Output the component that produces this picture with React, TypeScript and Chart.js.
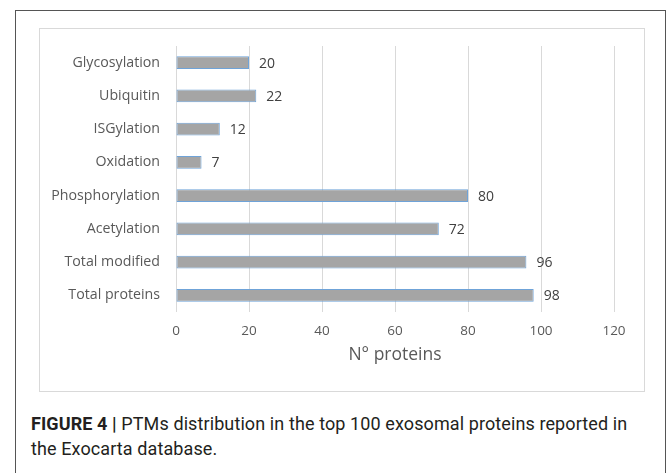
import React, { useEffect, useRef } from "react";
import { Chart, registerables } from "chart.js";

Chart.register(...registerables);

const categories = [
  "Glycosylation",
  "Ubiquitin",
  "ISGylation",
  "Oxidation",
  "Phosphorylation",
  "Acetylation",
  "Total modified",
  "Total proteins",
];
const values = [20, 22, 12, 7, 80, 72, 96, 98];
const xTicks = [0, 20, 40, 60, 80, 100, 120];
const axisTitle = "N° proteins";

const CHART_FONT = "'Open Sans', 'Noto Sans', sans-serif";

const valueLabels = {
  id: "valueLabels",
  afterDatasetsDraw(chart: any) {
    const ctx = chart.ctx;
    const meta = chart.getDatasetMeta(0);
    ctx.save();
    ctx.font = `14px ${CHART_FONT}`;
    ctx.fillStyle = "#404040";
    ctx.textAlign = "left";
    ctx.textBaseline = "middle";
    meta.data.forEach((el: any, i: number) => {
      ctx.fillText(String(values[i]), el.x + 10, el.y + 1);
    });
    ctx.restore();
  },
};

export default function App() {
  const ref = useRef<HTMLCanvasElement | null>(null);

  useEffect(() => {
    if (!ref.current) return;
    const chart = new Chart(ref.current, {
      type: "bar",
      data: {
        labels: categories,
        datasets: [
          {
            data: values,
            backgroundColor: "#a5a5a5",
            borderColor: "#6fa3d8",
            borderWidth: 1,
            borderSkipped: false,
            barPercentage: 0.38,
            categoryPercentage: 1,
          },
        ],
      },
      options: {
        indexAxis: "y",
        animation: false,
        responsive: false,
        maintainAspectRatio: false,
        layout: { padding: { left: 0, right: 29, top: 17, bottom: 0 } },
        plugins: {
          legend: { display: false },
          tooltip: { enabled: false },
        },
        scales: {
          x: {
            type: "linear",
            min: 0,
            max: 120,
            afterBuildTicks: (scale: any) => {
              scale.ticks = xTicks.map((v) => ({ value: v }));
            },
            afterFit: (scale: any) => {
              scale.height = 78;
            },
            grid: { color: "#d9d9d9", drawTicks: false },
            border: { display: false },
            ticks: {
              padding: 11,
              color: "#595959",
              font: { family: CHART_FONT, size: 13.5 },
            },
            title: {
              display: true,
              text: axisTitle,
              color: "#595959",
              font: { family: CHART_FONT, size: 17.5 },
              padding: { top: 0, bottom: 24 },
            },
          },
          y: {
            afterFit: (scale: any) => {
              scale.width = 136;
              scale.paddingTop = 0;
              scale.paddingBottom = 0;
            },
            grid: { display: false, drawTicks: false },
            border: { display: false },
            ticks: {
              padding: 16,
              color: "#595959",
              font: { family: CHART_FONT, size: 14.2 },
            },
          },
        },
      },
      plugins: [valueLabels],
    });
    return () => chart.destroy();
  }, []);

  return (
    <div
      style={{
        position: "fixed",
        left: 0,
        top: 0,
        width: 670,
        height: 473,
        overflow: "hidden",
        background: "#ffffff",
      }}
    >
      <div
        style={{
          position: "absolute",
          left: 15,
          top: 10,
          width: 651,
          height: 500,
          border: "1px solid #555555",
          boxSizing: "border-box",
        }}
      />
      <div
        style={{
          position: "absolute",
          left: 39,
          top: 28,
          width: 606,
          height: 364,
          border: "1px solid #d9d9d9",
          boxSizing: "border-box",
        }}
      />
      <canvas
        ref={ref}
        width={603}
        height={361}
        style={{ position: "absolute", left: 40, top: 29, width: 603, height: 361 }}
      />
      <div
        style={{
          position: "absolute",
          left: 31,
          top: 411,
          width: 640,
          whiteSpace: "nowrap",
          fontFamily: "Roboto, 'Liberation Sans', sans-serif",
          fontSize: 18,
          letterSpacing: "0.1px",
          lineHeight: "25px",
          color: "#231f20",
        }}
      >
        <b>FIGURE 4 |</b> PTMs distribution in the top 100 exosomal proteins reported in
        <br />
        the Exocarta database.
      </div>
    </div>
  );
}
